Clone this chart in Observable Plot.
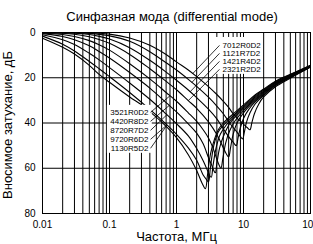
<!DOCTYPE html>
<html><head><meta charset="utf-8">
<script src="https://cdn.jsdelivr.net/npm/d3@7"></script>
<script src="https://cdn.jsdelivr.net/npm/@observablehq/plot@0.6"></script>
<style>
html,body{margin:0;padding:0;background:#fff;overflow:hidden;}
body{width:313px;height:244px;position:relative;font-family:"Liberation Sans",Arial,sans-serif;}
#title{position:absolute;left:31px;width:282px;top:10px;font-size:13px;line-height:13px;text-align:center;color:#000;white-space:nowrap;z-index:2;}
#chart{position:absolute;left:0;top:20px;z-index:1;}
</style></head><body>
<div id="title">Синфазная мода (differential mode)</div>
<div id="chart"></div>
<script>
// ---- axis ticks ----
const xTicks = [0.01, 0.1, 1, 10, 100];
const xTickLabels = ["0.01", "0.1", "1", "10", "100"];
const yTicks = [0, 20, 40, 60, 80];
const xLabel = "Частота, МГц";
const yLabel = "Вносимое затухание, дБ";

// ---- series names (curve 1 = leftmost dip) ----
const names = ["1130R5D2", "9720R6D2", "8720R7D2", "4420R8D2", "3521R0D2",
               "2321R2D2", "1421R4D2", "1121R7D2", "7012R0D2"];

// ---- series values: frequency (MHz) and insertion loss (dB) ----
const f1 = [0.01,0.02,0.03,0.05,0.07,0.1,0.2,0.3,0.4,0.55,0.7,1,1.5,2,2.4,2.7,2.9,3.2,3.7,4.2,5,7,10,15,20,30,50,100];
const a1 = [2.5,6.5,9.5,14.5,18.5,22,28.5,32,35,38.5,41.5,46.5,54,61,66.5,69,63,54,47,43,40,36,32,27.5,25,21.5,18.5,14.5];
const f2 = [0.01,0.02,0.03,0.05,0.07,0.1,0.2,0.4,0.7,1,1.5,2,2.5,2.8,3,3.2,3.6,4.2,5,7,10,15,20,30,50,100];
const a2 = [1.6,5.2,8.2,12.8,16,19.5,26.5,34,40.5,45,51,56.5,63,65,66,60,50,44,41,36.8,32.6,28,25.4,21.8,18.7,14.6];
const f3 = [0.01,0.02,0.03,0.05,0.07,0.1,0.2,0.4,0.7,1,1.5,2,2.5,2.9,3.1,3.3,3.5,3.9,4.5,5.5,7,10,15,20,30,50,100];
const a3 = [1.0,3.2,5.3,9.2,12.1,15.5,22.3,29.5,36,40.3,45.7,51.3,56.7,61,63,64,59,51,45,41,37.5,33.2,28.5,25.8,22,18.9,14.7];
const f4 = [0.01,0.02,0.03,0.05,0.07,0.1,0.2,0.4,0.7,1,1.5,2,2.5,3,3.4,3.6,3.8,4,4.4,5,6,7,10,15,20,30,50,100];
const a4 = [0.5,1.8,3.2,5.9,8.4,11.3,17.7,24.6,31,35.1,40.4,44.5,49.2,55.3,59,61,62,58,51,46,41,38.3,33.8,29,26.2,22.3,19.1,14.8];
const f5 = [0.01,0.02,0.03,0.05,0.07,0.1,0.2,0.4,0.7,1,1.5,2,2.5,3,3.5,4,4.3,4.6,4.9,5.4,6.2,7.5,10,15,20,30,50,100];
const a5 = [0.2,0.9,1.8,3.6,5.4,7.8,13.8,20.5,26.5,30.4,35.5,39.3,43,46.6,51,56,58.5,60,56,49,43.5,39,34.5,29.5,26.6,22.6,19.3,14.9];
const f6 = [0.01,0.02,0.03,0.05,0.07,0.1,0.2,0.4,0.7,1,1.5,2,3,4,5,5.5,6,6.4,7,8,10,15,20,30,50,100];
const a6 = [0.1,0.3,0.8,1.9,3.1,4.8,9.7,16,21.6,25.3,30.1,33.5,39.5,45.1,51,53.5,55,51,45,40,35.5,30,27,22.9,19.5,15];
const f7 = [0.01,0.02,0.03,0.05,0.07,0.1,0.2,0.4,0.7,1,1.5,2,3,4,5,6,7,7.8,8.3,9,10,12,15,20,30,50,100];
const a7 = [0,0.15,0.3,0.9,1.7,2.9,6.7,12.3,17.5,21.1,25.4,28.8,33.9,38.2,42.6,46,48.5,50,46.5,42,38,34,30.6,27.4,23.2,19.7,15.1];
const f8 = [0.01,0.03,0.05,0.1,0.2,0.4,0.7,1,1.5,2,3,4,5,6,7,8,9,9.7,10.3,11,12.5,15,20,30,50,100];
const a8 = [0,0.1,0.4,1.5,3.9,8.5,13.4,16.6,20.7,23.8,28.6,32.5,35.9,39.3,42,44,46,47,44,40,35.5,31.5,27.8,23.5,19.9,15.2];
const f9 = [0.01,0.05,0.1,0.2,0.4,0.7,1,1.5,2,3,4,5,6,7,8.5,10,11.3,12.5,13.3,14.5,17,20,30,50,100];
const a9 = [0,0.2,0.7,2.4,5.6,9.7,13,16.6,19.5,23.9,27.4,30.4,33.1,35.9,38.5,40.5,42,43,40,36,31.5,28.5,24,20.2,15.3];

// ---- label groups and which frequency each leader points at ----
const lowerLabels = ["3521R0D2", "4420R8D2", "8720R7D2", "9720R6D2", "1130R5D2"];
const upperLabels = ["7012R0D2", "1121R7D2", "1421R4D2", "2321R2D2"];
const leaderTargetF = [0.8, 0.78, 0.72, 0.72, 0.7, 1.75, 1.7, 1.6, 1.5];

// ---- annotation layout (data units) ----
const layout = {
  lower: {textX: 0.382, leadX: 0.41, y0: 35.3, dy: 3.97, box: [0.093, 0.435, 32.2, 53.4]},
  upper: {textX: 4.86, leadX: 4.38, y0: 5.7, dy: 3.53, box: [3.56, 19.2, 2.2, 18.5]}
};

const freqs = [f1,f2,f3,f4,f5,f6,f7,f8,f9];
const atts = [a1,a2,a3,a4,a5,a6,a7,a8,a9];
const rows = names.flatMap((name, i) => freqs[i].map((f, j) => ({name, f, a: atts[i][j]})));

function valueAt(name, f) {
  const i = names.indexOf(name);
  const F = freqs[i], A = atts[i];
  for (let j = 0; j < F.length - 1; j++) {
    if (f >= F[j] && f <= F[j+1]) {
      const t = (Math.log(f) - Math.log(F[j])) / (Math.log(F[j+1]) - Math.log(F[j]));
      return A[j] + t * (A[j+1] - A[j]);
    }
  }
  return A[A.length - 1];
}

const labelRows = [];
lowerLabels.forEach((n, k) => labelRows.push({name: n, group: "lower", k}));
upperLabels.forEach((n, k) => labelRows.push({name: n, group: "upper", k}));
labelRows.forEach((d, idx) => {
  const L = layout[d.group];
  d.ty = L.y0 + d.k * L.dy;
  d.tx = L.textX;
  d.lx = L.leadX;
  d.ex = leaderTargetF[idx];
  d.ey = valueAt(d.name, d.ex);
});

const grid = [];
for (const dec of [0.01, 0.1, 1, 10]) for (let k = 1; k <= 9; k++) grid.push(k * dec);
grid.push(100);

const boxes = [layout.lower.box, layout.upper.box];

const plot = Plot.plot({
  width: 313, height: 224,
  marginTop: 12, marginBottom: 31, marginLeft: 42, marginRight: 3,
  style: {fontFamily: "'Liberation Sans', Arial, sans-serif", fontSize: "10px", background: "transparent", color: "black", overflow: "visible", display: "block"},
  x: {type: "log", domain: [0.01, 100], ticks: xTicks, tickFormat: d => xTickLabels[xTicks.indexOf(d)], tickSize: 0, tickPadding: 7, label: null},
  y: {domain: [0, 80], reverse: true, ticks: yTicks, tickSize: 0, tickPadding: 7, label: null},
  marks: [
    Plot.ruleX(grid, {stroke: "black", strokeWidth: 1}),
    Plot.ruleY(yTicks, {stroke: "black", strokeWidth: 1}),
    Plot.line(rows, {x: "f", y: "a", z: "name", stroke: "black", strokeWidth: 1.1, curve: "catmull-rom"}),
    Plot.rect(boxes, {x1: d => d[0], x2: d => d[1], y1: d => d[2], y2: d => d[3], fill: "white"}),
    Plot.link(labelRows, {x1: "lx", y1: "ty", x2: "ex", y2: "ey", stroke: "black", strokeWidth: 0.8}),
    Plot.text(labelRows.filter(d => d.group === "lower"), {x: "tx", y: "ty", text: "name", textAnchor: "end", fontSize: 8}),
    Plot.text(labelRows.filter(d => d.group === "upper"), {x: "tx", y: "ty", text: "name", textAnchor: "start", fontSize: 8}),
    Plot.frame({stroke: "black", strokeWidth: 1}),
    Plot.text([xLabel], {frameAnchor: "bottom", dy: 23.5, textAnchor: "middle", lineAnchor: "middle", text: d => d, fontSize: 13}),
    Plot.text([yLabel], {frameAnchor: "left", dx: -35, dy: 2, rotate: -90, textAnchor: "middle", lineAnchor: "middle", text: d => d, fontSize: 13})
  ]
});
document.getElementById("chart").appendChild(plot);
</script>
</body></html>
